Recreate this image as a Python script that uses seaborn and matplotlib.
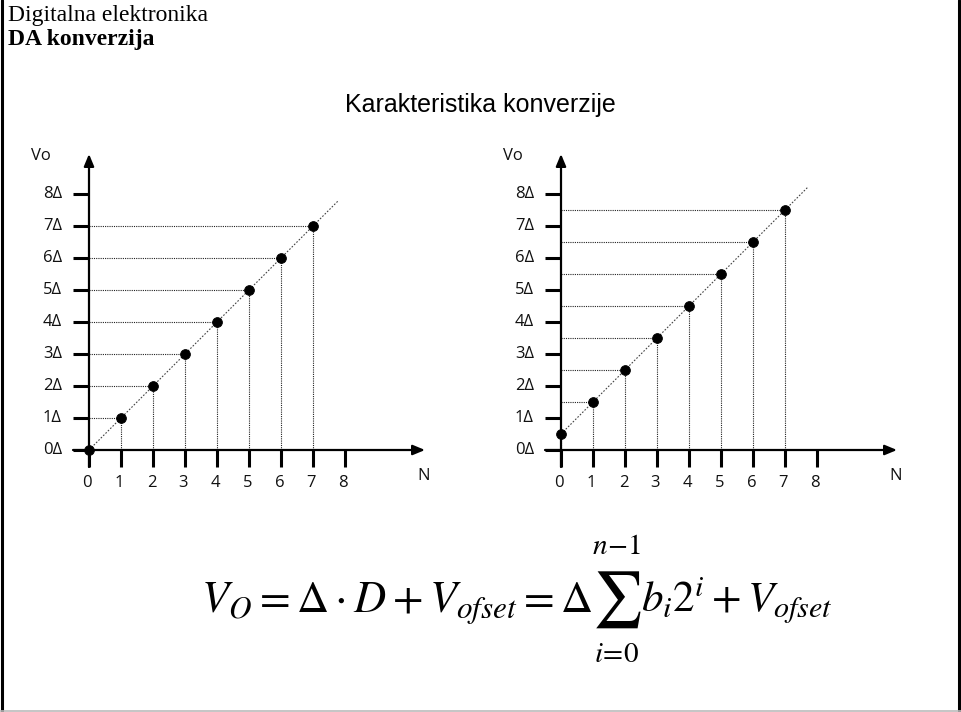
import matplotlib
matplotlib.use("Agg")
import matplotlib.pyplot as plt
from matplotlib.lines import Line2D
import seaborn as sns
import pandas as pd

# Digital codes and the output voltages (in units of one LSB step, Δ)
codes = [0, 1, 2, 3, 4, 5, 6, 7]
vo_no_offset = [0, 1, 2, 3, 4, 5, 6, 7]
vo_half_offset = [0.5, 1.5, 2.5, 3.5, 4.5, 5.5, 6.5, 7.5]

# Ideal transfer line (code range it is drawn over, and its offset)
line_codes_left = [0, 7.8]
line_codes_right = [0, 7.7]
offsets = [0.0, 0.5]

x_ticks = [0, 1, 2, 3, 4, 5, 6, 7, 8]
x_tick_labels = ["0", "1", "2", "3", "4", "5", "6", "7", "8"]
y_ticks = [0, 1, 2, 3, 4, 5, 6, 7, 8]
y_tick_labels = ["0Δ", "1Δ", "2Δ", "3Δ", "4Δ", "5Δ", "6Δ", "7Δ", "8Δ"]

sns.set_theme(style="white")
plt.rcParams["font.family"] = ["Open Sans", "DejaVu Sans"]
plt.rcParams["mathtext.fontset"] = "stix"

W, H = 961, 712
fig = plt.figure(figsize=(W / 100, H / 100), dpi=100)
fig.patch.set_facecolor("white")

UNIT = 32.0  # pixels per Δ / per code step
tick_font = dict(family=["Open Sans", "DejaVu Sans"], size=12, color="#111111")


def draw_panel(origin_x, values, offset, lcodes):
    left_px, right_px = origin_x - 69, origin_x + 351
    top_px, bottom_px = 140, 500
    origin_y = 450
    ax = fig.add_axes([left_px / W, 1 - bottom_px / H,
                       (right_px - left_px) / W, (bottom_px - top_px) / H])
    ax.set_xlim((left_px - origin_x) / UNIT, (right_px - origin_x) / UNIT)
    ax.set_ylim(-(bottom_px - origin_y) / UNIT, (origin_y - top_px) / UNIT)
    ax.axis("off")

    # guide lines from each point down to the N axis and across to the Vo axis
    for n, v in zip(codes, values):
        ax.plot([0, n], [v, v], color="#222222", lw=0.8, ls=(0, (1, 1)), zorder=2)
        ax.plot([n, n], [0, v], color="#222222", lw=0.8, ls=(0, (1, 1)), zorder=2)

    # ideal characteristic
    df_line = pd.DataFrame({"N": lcodes, "Vo": [n + offset for n in lcodes]})
    sns.lineplot(data=df_line, x="N", y="Vo", ax=ax, color="#444444",
                 lw=0.8, linestyle=(0, (1.5, 1.5)), zorder=2)

    # axes with arrows
    ax.annotate("", xy=(10.5, 0), xytext=(-0.5, 0),
                arrowprops=dict(arrowstyle="-|>,head_length=0.6,head_width=0.25",
                                color="black", lw=1.6, shrinkA=0, shrinkB=0), zorder=3)
    ax.annotate("", xy=(0, 9.25), xytext=(0, -0.53),
                arrowprops=dict(arrowstyle="-|>,head_length=0.6,head_width=0.25",
                                color="black", lw=1.6, shrinkA=0, shrinkB=0), zorder=3)

    for t, lab in zip(x_ticks, x_tick_labels):
        ax.plot([t, t], [0, -0.53], color="black", lw=2.2, solid_capstyle="butt", zorder=3)
        ax.text(t - 0.05, -1.02, lab, ha="center", va="center", **tick_font)
    for t, lab in zip(y_ticks, y_tick_labels):
        ax.plot([-0.5, 0], [t, t], color="black", lw=2.2, solid_capstyle="butt", zorder=3)
        ax.text(-0.85, t, lab, ha="right", va="center", **tick_font)

    ax.text(-1.5, 9.2, "Vo", ha="center", va="center", **tick_font)
    ax.text(10.45, -0.82, "N", ha="center", va="center", **tick_font)

    df_pts = pd.DataFrame({"N": codes, "Vo": values})
    sns.scatterplot(data=df_pts, x="N", y="Vo", ax=ax, color="black",
                    edgecolor="black", s=50, zorder=5, legend=False)
    ax.set_xlabel("")
    ax.set_ylabel("")
    return ax


draw_panel(89, vo_no_offset, offsets[0], line_codes_left)
draw_panel(561, vo_half_offset, offsets[1], line_codes_right)

# slide header
fig.text(8 / W, 1 - 16 / H, "Digitalna elektronika", ha="left", va="center",
         family="Liberation Serif", size=17, color="black")
fig.text(8 / W, 1 - 39 / H, "DA konverzija", ha="left", va="center",
         family="Liberation Serif", size=17, weight="bold", color="black")

fig.text(480 / W, 1 - 105 / H, "Karakteristika konverzije", ha="center", va="center",
         family="Liberation Sans", size=18, color="black")

# conversion formula, set in pieces so the sum gets display-size limits
base_y = 1 - 612 / H
fig.text(593 / W, base_y, r"$V_O=\Delta\cdot D+V_{ofset}=\Delta$",
         ha="right", va="baseline", size=32, color="black")
fig.text(617 / W, 1 - 600 / H, r"$\sum$", ha="center", va="center",
         size=40, color="black")
fig.text(617 / W, 1 - 547 / H, r"$n\!-\!1$", ha="center", va="center",
         size=21, color="black")
fig.text(617 / W, 1 - 655 / H, r"$i\!=\!0$", ha="center", va="center",
         size=21, color="black")
fig.text(641 / W, base_y, r"$b_i2^i+V_{ofset}$",
         ha="left", va="baseline", size=31, color="black")

# slide frame
fig.add_artist(Line2D([2 / W, 2 / W], [0, 1], color="black", lw=2.2))
fig.add_artist(Line2D([958.5 / W, 958.5 / W], [0, 1], color="black", lw=2.2))
fig.add_artist(Line2D([0, 1], [1 - 710.5 / H, 1 - 710.5 / H], color="#bbbbbb", lw=1.2))

fig.savefig("out.png", dpi=100, facecolor="white")
